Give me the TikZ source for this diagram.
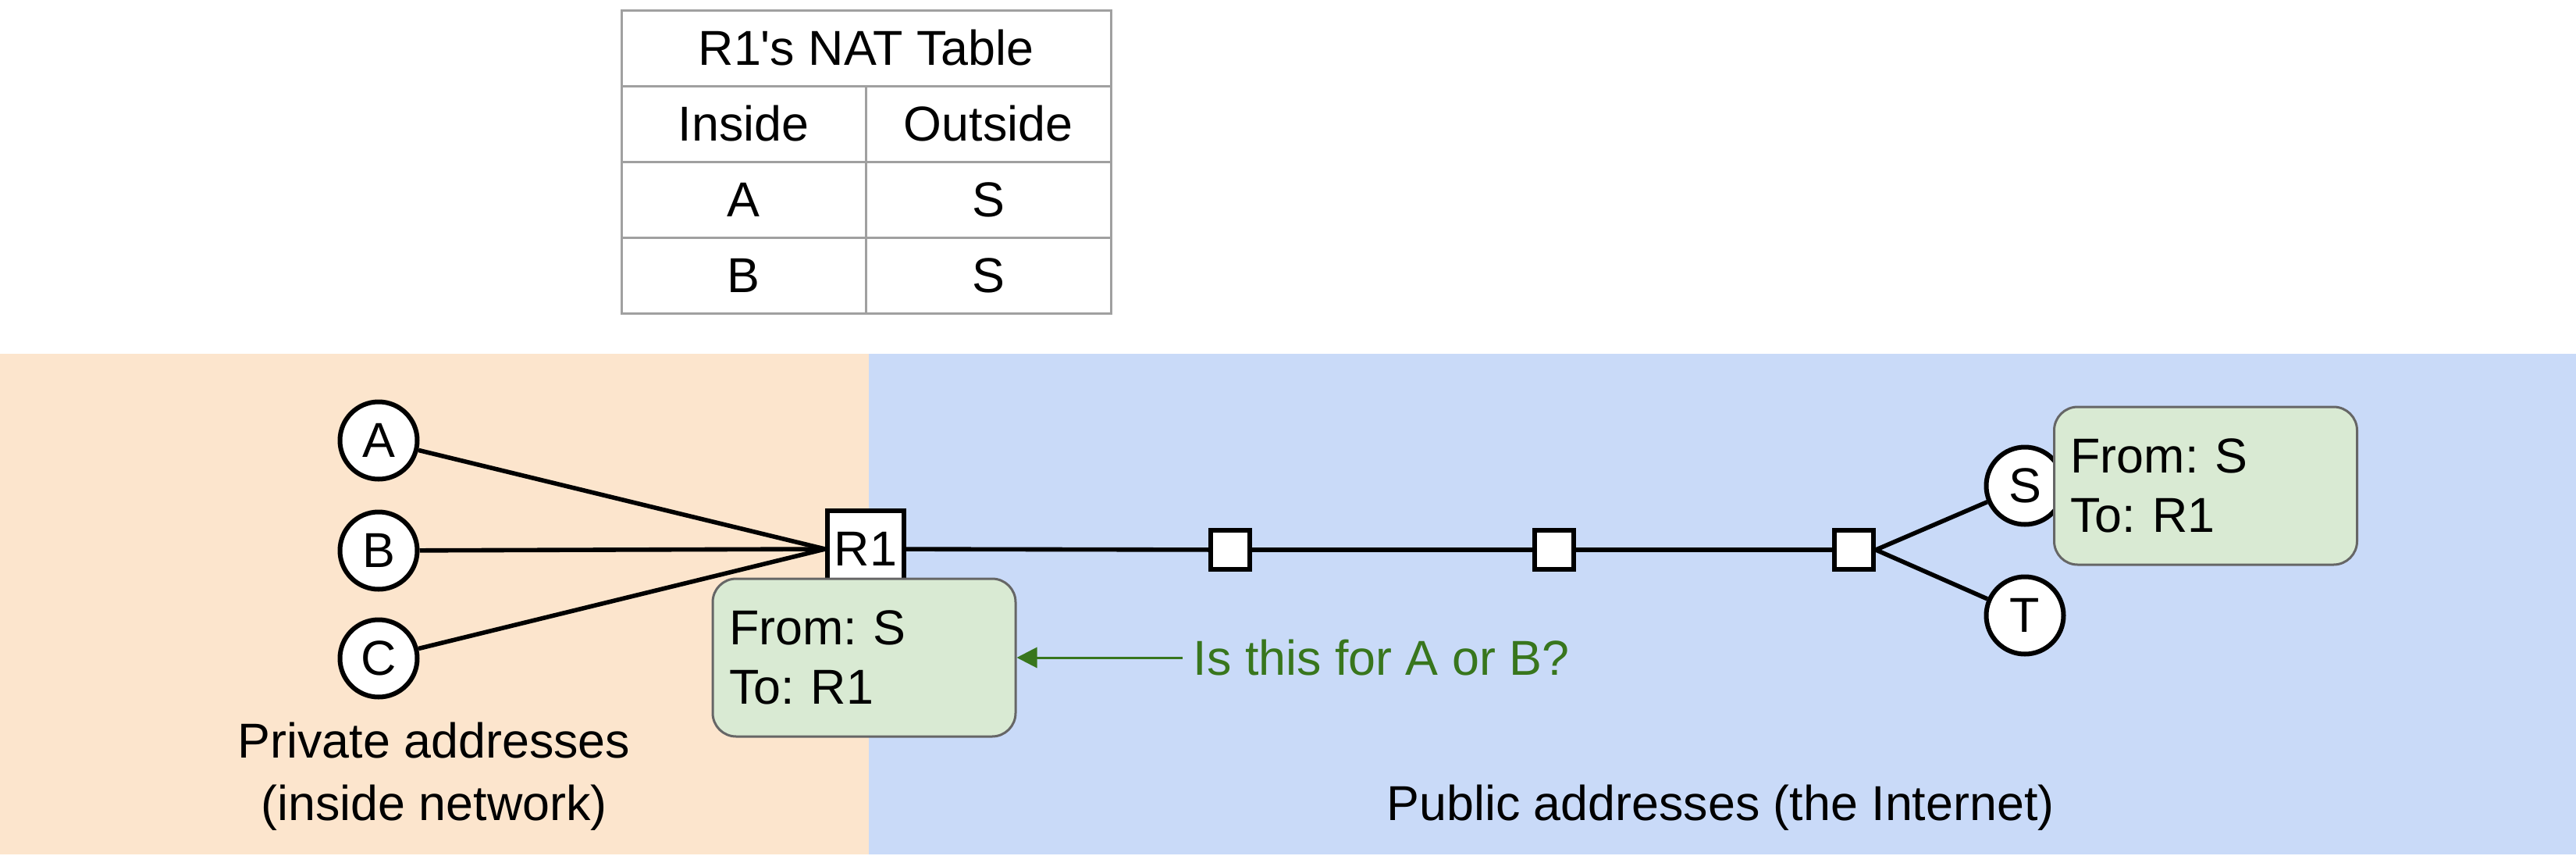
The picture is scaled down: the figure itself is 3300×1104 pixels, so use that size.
\documentclass[tikz,border=0pt]{standalone}
\usepackage{fontspec}
\setmainfont{Liberation Sans}
\usetikzlibrary{arrows.meta}
\definecolor{orangebg}{HTML}{FCE5CD}
\definecolor{bluebg}{HTML}{C9DAF8}
\definecolor{boxgreen}{HTML}{D9EAD3}
\definecolor{txtgreen}{HTML}{38761D}
\definecolor{gridgray}{HTML}{A0A0A0}
\definecolor{boxedge}{HTML}{666666}
\frenchspacing
\begin{document}
\begin{tikzpicture}[x=0.25pt,y=-0.25pt,
  every node/.style={font=\fontsize{15.7pt}{19pt}\selectfont},
  host/.style={circle,draw,fill=white,line width=1.5pt,minimum size=24.75pt,inner sep=0pt},
  router/.style={rectangle,draw,fill=white,line width=1.5pt,minimum size=24.5pt,inner sep=0pt},
  hop/.style={rectangle,draw,fill=white,line width=1.5pt,minimum size=12.5pt,inner sep=0pt},
  link/.style={line width=1.4pt},
  packet/.style={rectangle,rounded corners=7.5pt,draw=boxedge,line width=0.75pt,fill=boxgreen,
    align=left,text width=86.5pt,inner xsep=5.25pt,inner ysep=0pt,minimum height=50.5pt},
  cell/.style={rectangle,draw=gridgray,line width=0.75pt,inner sep=0pt,minimum height=24.25pt},
  lbl/.style={anchor=base,inner sep=0pt},
]
\useasboundingbox (0,0) rectangle (3300,1104);
% backgrounds
\fill[orangebg] (0,453) rectangle (1113,1094);
\fill[bluebg] (1113,453) rectangle (3300,1094);
% NAT table
\node[cell,minimum width=156.75pt] (title) at (1109.5,61.5) {R1\textquotesingle s NAT Table};
\node[cell,minimum width=78.25pt] (inH) at (952.5,158.5) {Inside};
\node[cell,minimum width=78.5pt] (outH) at (1266,158.5) {Outside};
\node[cell,minimum width=78.25pt] (inA) at (952.5,255.5) {A};
\node[cell,minimum width=78.5pt] (outA) at (1266,255.5) {S};
\node[cell,minimum width=78.25pt] (inB) at (952.5,352.5) {B};
\node[cell,minimum width=78.5pt] (outB) at (1266,352.5) {S};
% network nodes
\node[host] (A) at (485,564) {A};
\node[host] (B) at (485,705) {B};
\node[host] (C) at (485,843) {C};
\node[router] (R1) at (1109,703) {R1};
\node[hop] (h1) at (1576,704) {};
\node[hop] (h2) at (1991,704) {};
\node[hop] (h3) at (2375,704) {};
\node[host] (S) at (2594,622) {S};
\node[host] (T) at (2594,788) {T};
% links
\draw[link] (A) -- (R1.west);
\draw[link] (B) -- (R1.west);
\draw[link] (C) -- (R1.west);
\draw[link] (R1) -- (h1);
\draw[link] (h1) -- (h2);
\draw[link] (h2) -- (h3);
\draw[link] (h3.east) -- (S);
\draw[link] (h3.east) -- (T);
% packets
\node[packet] (pktS) at (2825.5,622) {From: S\\To: R1};
\node[packet] (pktR) at (1107,842) {From: S\\To: R1};
% question
\node[anchor=west,inner xsep=3.25pt,inner ysep=0pt,text=txtgreen] (q) at (1515,842) {Is this for A or B?};
\draw[txtgreen,line width=0.75pt,-{Triangle[length=6.5pt,width=6.5pt]}] (q.west) -- (pktR.east);
% region labels
\node[lbl] (priv1) at (556,970) {Private addresses};
\node[lbl] (priv2) at (556,1050) {(inside network)};
\node[lbl] (pub) at (2204,1050) {Public addresses (the Internet)};
\end{tikzpicture}
\end{document}
